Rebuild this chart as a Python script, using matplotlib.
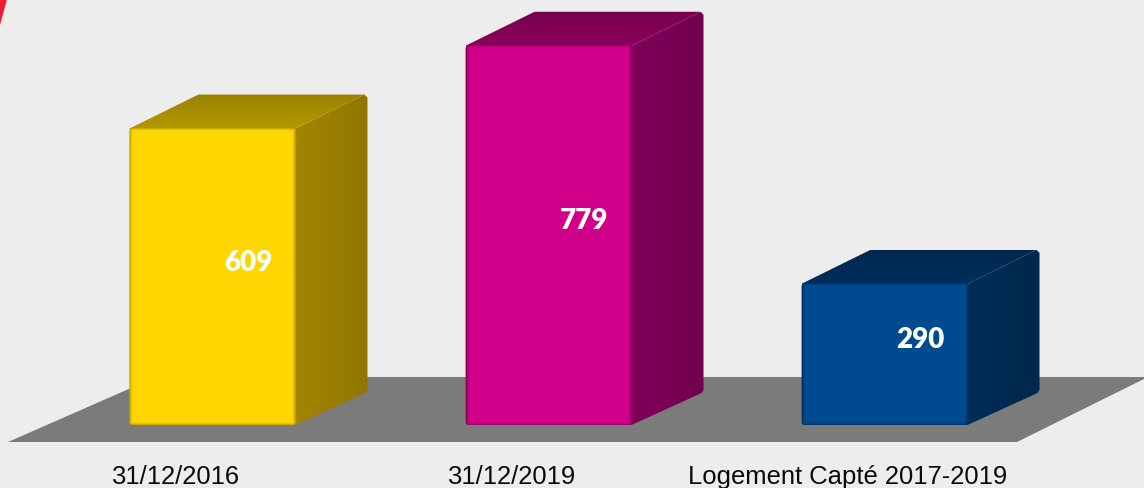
import numpy as np
import matplotlib
matplotlib.use("Agg")
import matplotlib.pyplot as plt
from matplotlib.colors import to_rgb
from matplotlib.patches import Polygon, FancyBboxPatch

categories = ["31/12/2016", "31/12/2019", "Logement Capté 2017-2019"]
values = [609, 779, 290]
front_colors = ["#FFD700", "#D0008A", "#004A8F"]
side_colors = ["#A38700", "#80005A", "#002D58"]
top_colors = ["#B89B00", "#8E005C", "#00305E"]

W, H = 1144, 489
# pixels per category step / per value unit
px_cat = 336.0
px_val = 0.4868
x0_px = 212.5
base_px = 426.0


def dx(p):
    return p / px_cat


def dy(p):
    return p / px_val


def to_x(p):
    return (p - x0_px) / px_cat


def to_y(p):
    return (base_px - p) / px_val


bar_w = dx(166)
depth_x = dx(72)
depth_y = dy(34)

fig = plt.figure(figsize=(W / 100, H / 100), dpi=100, facecolor="#EDEDED")
ax = fig.add_axes([0, 0, 1, 1])
ax.set_facecolor("#EDEDED")
ax.axis("off")


def gradient(verts, start, end, horizontal, z):
    # fills a polygon with a linear gradient, clipped to its outline
    xs = [v[0] for v in verts]
    ys = [v[1] for v in verts]
    t = np.linspace(0, 1, 64)
    c = np.outer(1 - t, to_rgb(start)) + np.outer(t, to_rgb(end))
    img = c[np.newaxis, :, :] if horizontal else c[:, np.newaxis, :]
    im = ax.imshow(img, extent=[min(xs), max(xs), min(ys), max(ys)], origin="lower",
                   aspect="auto", zorder=z, interpolation="bilinear")
    clip = Polygon(verts, closed=True, transform=ax.transData)
    im.set_clip_path(clip)


def scaled(color, f):
    return tuple(np.array(to_rgb(color)) * f)


# floor
floor = [(to_x(8), to_y(443)), (to_x(1017), to_y(443)),
         (to_x(1148), to_y(378)), (to_x(156), to_y(378))]
ax.add_patch(Polygon(floor, closed=True, facecolor="#7B7B7B", edgecolor="none", zorder=1))

# red corner at top left
ax.add_patch(Polygon([(to_x(0), to_y(0)), (to_x(7), to_y(0)), (to_x(0), to_y(26))],
                     closed=True, facecolor="#EE1C2E", edgecolor="none", zorder=1))

for i, (val, fc, sc, tc) in enumerate(zip(values, front_colors, side_colors, top_colors)):
    left = i - bar_w / 2
    right = i + bar_w / 2

    side = [(right - dx(4), 0), (right, 0), (right + depth_x - dx(2), depth_y - dy(2)),
            (right + depth_x, depth_y + dy(1)), (right + depth_x, val + depth_y - dy(3)),
            (right + depth_x - dx(3), val + depth_y), (right, val), (right - dx(4), val)]
    gradient(side, scaled(sc, 1.0), scaled(sc, 0.88), True, 3)

    top = [(left + dx(1), val - dy(4)), (left, val), (left + depth_x - dx(3), val + depth_y),
           (right + depth_x - dx(3), val + depth_y), (right, val), (right, val - dy(4))]
    gradient(top, tc, scaled(tc, 0.84), False, 3)

    # front face with a thin soft darker rim
    box = FancyBboxPatch((left, 0), bar_w, val,
                         boxstyle="round,pad=0,rounding_size=%f" % dx(3),
                         mutation_aspect=dy(1) / dx(1),
                         facecolor=fc, edgecolor="none", zorder=4)
    ax.add_patch(box)
    n_y, n_x = int(val * px_val), 166
    rim = np.zeros((n_y, n_x, 4))
    rim[:, :, :3] = scaled(fc, 0.62)
    px, py = np.arange(n_x), np.arange(n_y)
    edge_x = np.minimum(px, n_x - 1 - px)
    edge_y = np.minimum(py, n_y - 1 - py)
    fade_x = np.clip(1 - edge_x / 4.0, 0, 1) ** 2
    fade_y = np.clip(1 - edge_y / 3.0, 0, 1) ** 2 * 0.7
    rim[:, :, 3] = np.maximum(fade_x[np.newaxis, :], fade_y[:, np.newaxis]) * 0.8
    im = ax.imshow(rim, extent=[left, right, 0, val], origin="lower", aspect="auto",
                   zorder=5, interpolation="bilinear")
    im.set_clip_path(box)

    ax.text(i + depth_x / 2, val / 2 + dy(16.5) - dy(1.5), str(val), color="white", fontsize=20,
            fontweight="heavy", family="Lato", ha="center", va="center", zorder=6)
    ax.text(i + dx(-36.5), to_y(477), categories[i], color="#0A0A0A", fontsize=18.45,
            family="Liberation Sans", ha="center", va="center", zorder=6)

ax.set_xlim(to_x(0), to_x(W))
ax.set_ylim(to_y(H), to_y(0))

fig.savefig("out.png", dpi=100, facecolor=fig.get_facecolor())
